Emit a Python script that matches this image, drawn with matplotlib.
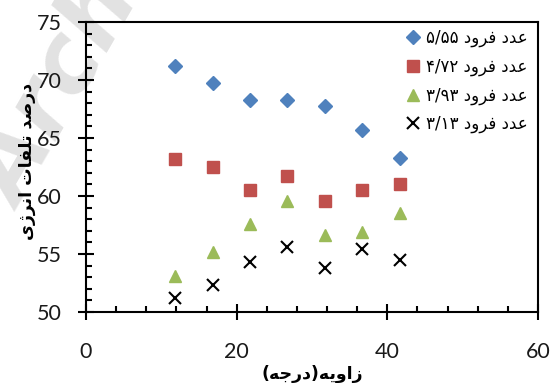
import re
import matplotlib
matplotlib.use('Agg')
import matplotlib.pyplot as plt
from matplotlib.ticker import MultipleLocator

# values
angle = [11.8, 16.8, 21.8, 26.7, 31.7, 36.7, 41.7]
loss_555 = [71.2, 69.7, 68.3, 68.3, 67.8, 65.7, 63.3]
loss_472 = [63.2, 62.5, 60.5, 61.7, 59.6, 60.5, 61.0]
loss_393 = [53.1, 55.2, 57.6, 59.6, 56.6, 56.9, 58.5]
loss_313 = [51.2, 52.3, 54.3, 55.6, 53.8, 55.4, 54.5]
series_labels = ['عدد فرود ۵/۵۵', 'عدد فرود ۴/۷۲', 'عدد فرود ۳/۹۳', 'عدد فرود ۳/۱۳']
x_title = 'زاویه(درجه)'
y_title = 'درصد تلفات انرژی'

# matplotlib has no arabic shaping, so pick presentation forms by hand
# (isolated, final, initial, medial)
FORMS = {
    'ع': ('\uFEC9', '\uFECA', '\uFECB', '\uFECC'),
    'د': ('\uFEA9', '\uFEAA', None, None),
    'ف': ('\uFED1', '\uFED2', '\uFED3', '\uFED4'),
    'ر': ('\uFEAD', '\uFEAE', None, None),
    'و': ('\uFEED', '\uFEEE', None, None),
    'ص': ('\uFEB9', '\uFEBA', '\uFEBB', '\uFEBC'),
    'ت': ('\uFE95', '\uFE96', '\uFE97', '\uFE98'),
    'ل': ('\uFEDD', '\uFEDE', '\uFEDF', '\uFEE0'),
    'ا': ('\uFE8D', '\uFE8E', None, None),
    'ن': ('\uFEE5', '\uFEE6', '\uFEE7', '\uFEE8'),
    'ژ': ('\uFB8A', '\uFB8B', None, None),
    'ی': ('\uFBFC', '\uFBFD', '\uFBFE', '\uFBFF'),
    'ز': ('\uFEAF', '\uFEB0', None, None),
    'ه': ('\uFEE9', '\uFEEA', '\uFEEB', '\uFEEC'),
    'ج': ('\uFE9D', '\uFE9E', '\uFE9F', '\uFEA0'),
}
MIRROR = {'(': ')', ')': '('}
DIGITS = '0123456789۰۱۲۳۴۵۶۷۸۹'


def rtl(text):
    out = []
    for i, ch in enumerate(text):
        if ch not in FORMS:
            out.append(ch)
            continue
        prev = text[i - 1] if i > 0 else ''
        nxt = text[i + 1] if i + 1 < len(text) else ''
        jp = prev in FORMS and FORMS[prev][2] is not None
        jn = FORMS[ch][2] is not None and nxt in FORMS
        iso, fin, ini, med = FORMS[ch]
        if jp and jn:
            out.append(med)
        elif jp:
            out.append(fin)
        elif jn:
            out.append(ini)
        else:
            out.append(iso)
    s = ''.join(out)
    runs = re.findall(r'[0-9۰-۹]+(?:/[0-9۰-۹]+)*|[^0-9۰-۹]+', s)
    vis = []
    for r in reversed(runs):
        if r[0] in DIGITS:
            vis.append(r)
        else:
            vis.append(''.join(MIRROR.get(c, c) for c in reversed(r)))
    return ''.join(vis)


fig = plt.figure(figsize=(5.51, 3.83), dpi=100)
ax = fig.add_axes([86 / 551, 1 - 312 / 383, 452 / 551, 290 / 383])
ax.set_facecolor('none')

# faint watermark behind the plot
fig.text(-0.075, 0.47, 'Archive of SID', rotation=60, fontsize=68, color='#e2e2e2',
         style='italic', fontweight='bold', zorder=-5)

ax.plot(angle, loss_555, 'D', color='#4F81BD', markersize=7.5, label=rtl(series_labels[0]), clip_on=False)
ax.plot(angle, loss_472, 's', color='#C0504D', markersize=8, label=rtl(series_labels[1]), clip_on=False)
ax.plot(angle, loss_393, '^', color='#9BBB59', markersize=9, label=rtl(series_labels[2]), clip_on=False)
ax.plot(angle, loss_313, 'x', color='black', markersize=8, markeredgewidth=1.5, label=rtl(series_labels[3]), clip_on=False)

ax.set_xlim(0, 60)
ax.set_ylim(50, 75)
ax.xaxis.set_major_locator(MultipleLocator(20))
ax.xaxis.set_minor_locator(MultipleLocator(4))
ax.yaxis.set_major_locator(MultipleLocator(5))
ax.yaxis.set_minor_locator(MultipleLocator(1))

for sp in ax.spines.values():
    sp.set_linewidth(1.5)
ax.tick_params(which='major', direction='inout', length=11, width=1.5, labelsize=15.5)
ax.tick_params(which='minor', direction='in', length=4.5, width=1.5)
ax.tick_params(axis='x', which='major', pad=16)
ax.tick_params(axis='y', which='major', pad=12)
for lab in ax.get_xticklabels() + ax.get_yticklabels():
    lab.set_fontfamily('Lato')
    lab.set_color('#1a1a1a')

ax.set_xlabel(rtl(x_title), fontsize=12.5, fontweight='bold', family='DejaVu Sans', va='center')
ax.xaxis.set_label_coords(0.5, -0.215)
ax.set_ylabel(rtl(y_title), fontsize=12.5, fontweight='bold', family='DejaVu Sans', va='center')
ax.yaxis.set_label_coords(-0.13, 0.52)

ax.legend(loc='upper right', bbox_to_anchor=(1.0, 1.01), frameon=False,
          prop={'family': 'DejaVu Sans', 'size': 12}, handletextpad=0.25,
          labelspacing=0.62, borderaxespad=0.2, handlelength=1.1)

fig.savefig('out.png', dpi=100)
